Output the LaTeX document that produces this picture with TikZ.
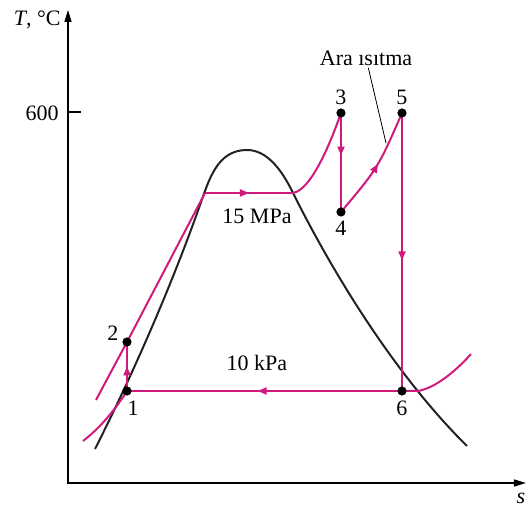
\documentclass[tikz,border=0pt]{standalone}
\usepackage{fontspec}
\setmainfont{Liberation Serif}
\usetikzlibrary{arrows.meta,decorations.markings,calc}
\definecolor{cycle}{HTML}{D01A7E}
\definecolor{dome}{HTML}{222222}
\tikzset{
  % linjer i kredsprocessen
  proc/.style={draw=cycle, line width=1pt},
  % maetningskurven
  satline/.style={draw=dome, line width=1pt},
  axis/.style={draw=black, line width=.7pt},
  axarrows/.style={arrows={Triangle[length=6pt,width=3.5pt]-Triangle[length=6pt,width=3.5pt]}},
  numlbl/.style={font=\fontsize{11}{13}\selectfont, inner sep=1pt},
  leader/.style={draw=black, line width=.4pt},
  midarr/.style={postaction={decorate}, decoration={markings,
      mark=at position #1 with {\arrow{Triangle[length=4.5pt,width=3.5pt]}}}},
}
% tilstand: navn, position, nummer, forskydning af nummeret
\newcommand{\state}[4]{%
  \coordinate (#1) at (#2);
  \node[numlbl] (l#1) at ($(#1)+(#4)$) {#3};}

\begin{document}
\begin{tikzpicture}[x=.5pt,y=-.5pt]
\useasboundingbox (0,0) rectangle (527,506);

% ----- akser -----
\coordinate (org) at (68,483);
\coordinate (ytop) at (68,10);
\coordinate (xend) at (526,483);
\draw[axis, axarrows] (ytop) -- (org) -- (xend);
\node[numlbl, anchor=east] (tlbl) at (63,20) {\textit{T}, °C};
\node[numlbl] (slbl) at (521,498) {\textit{s}};
\coordinate (t600) at (68,112);
\draw[axis] (t600) -- ++(13,0);
\node[numlbl, anchor=east] (l600) at (61,113) {600};

% ----- maetningskurve -----
\coordinate (cp) at (247,150); % kritisk punkt
\draw[satline] (95,449) .. controls (130,380) and (170,290) .. (200,205)
  .. controls (209,180) and (217,150) .. (cp)
  .. controls (266,150) and (281,168) .. (293,193)
  .. controls (338,283) and (400,380) .. (467,446);

% ----- tilstande -----
\state{s1}{127,391}{1}{6,17}
\state{s2}{127,342}{2}{-14,-9}
\state{s3}{341,113}{3}{0,-16}
\state{s4}{341,212}{4}{0,16}
\state{s5}{402,113}{5}{0,-16}
\state{s6}{402,391}{6}{0,17}

\coordinate (f15) at (205,193);
\coordinate (g15) at (293,193);
\coordinate (lo15) at (96,400);
\coordinate (g10) at (418,391);
\coordinate (lo10) at (83,441);
\coordinate (hi10) at (471,354);

% ----- isobarer og processer -----
\draw[proc] (lo15) -- (s2) -- (f15);
\draw[proc, midarr=.5] (s1) -- (s2);
\draw[proc, midarr=.5] (f15) -- (g15);
\draw[proc] (g15) .. controls (310,190) and (328,150) .. (s3);
\draw[proc, midarr=.43] (s3) -- (s4);
\draw[proc, midarr=.52] (s4) .. controls (378,168) .. (s5);
\draw[proc, midarr=.53] (s5) -- (s6);
\draw[proc, midarr=.525] (s6) -- (s1);
\draw[proc] (lo10) .. controls (100,428) and (115,410) .. (s1);
\draw[proc] (s6) -- (g10) .. controls (435,388) and (455,372) .. (hi10);

\foreach \s in {s1,s2,s3,s4,s5,s6}
  \fill (\s) circle (2.3pt);

\node[numlbl] (p15) at (257,216) {15 MPa};
\node[numlbl] (p10) at (257,363) {10 kPa};

% ----- ara isitma -----
\node[numlbl] (reheat) at (366,58) {Ara ısıtma};
\coordinate (rhend) at (386,143);
\draw[leader] (reheat) -- (rhend);

\end{tikzpicture}
\end{document}
